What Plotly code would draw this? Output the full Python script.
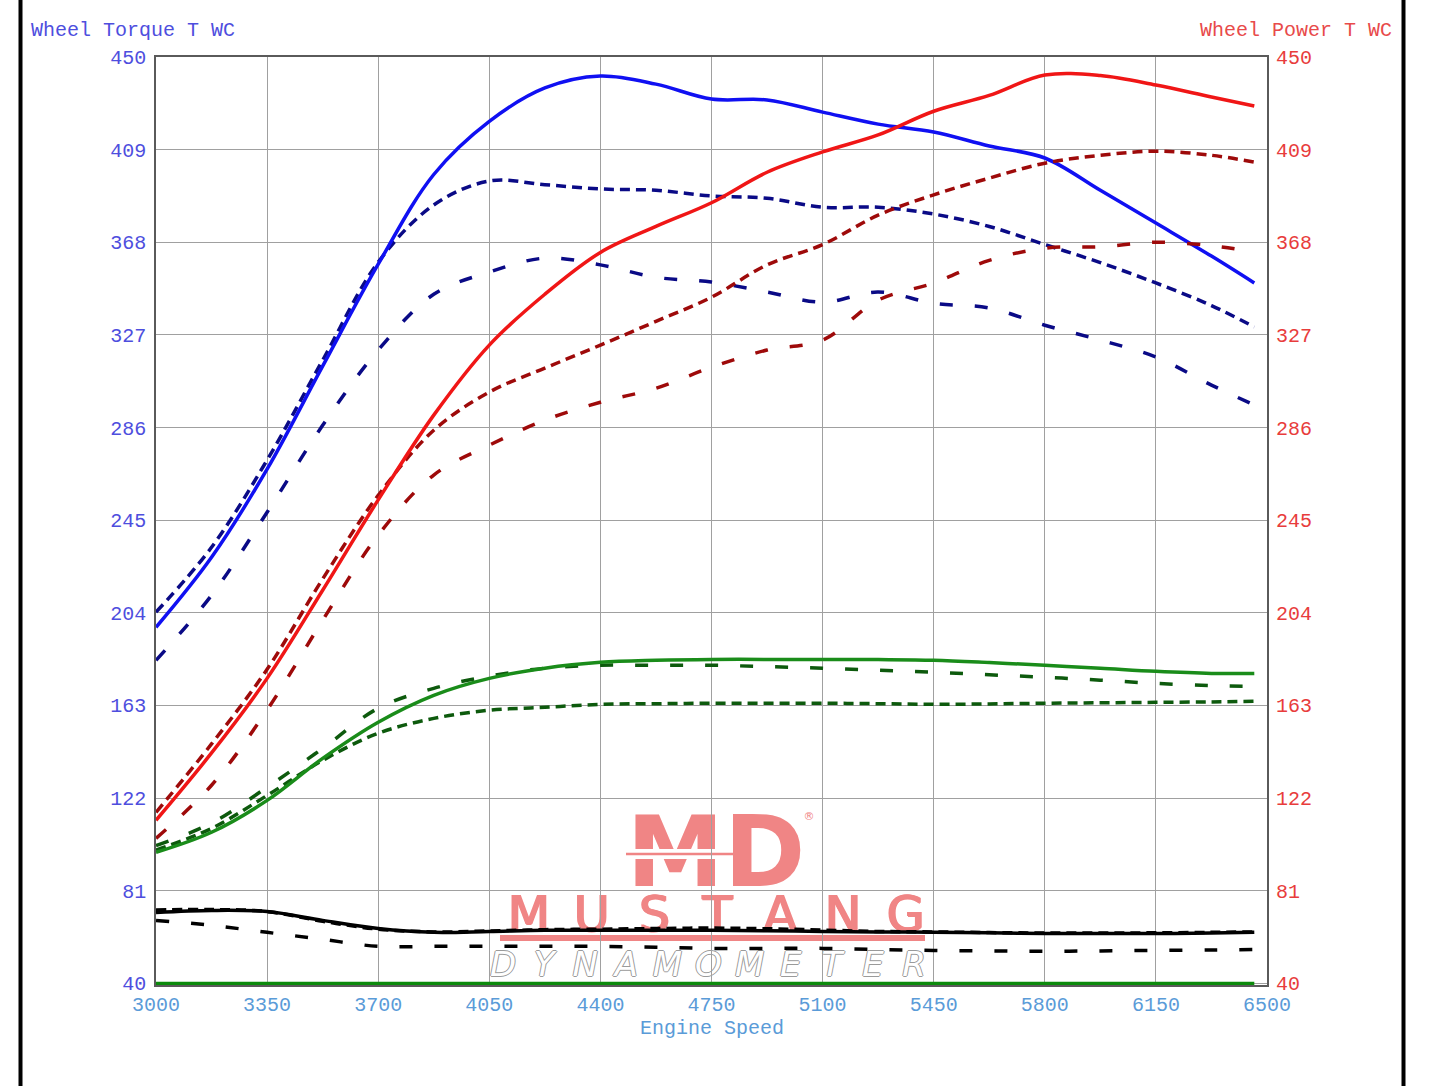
import plotly.graph_objects as go

# ---------------- data ----------------
rpm = [3000, 3175, 3350, 3525, 3700, 3875, 4050, 4225, 4400, 4575, 4750,
       4925, 5100, 5275, 5450, 5625, 5800, 5975, 6150, 6325, 6460]

torque_a = [197.6, 228.6, 267.6, 313.2, 358.3, 398.0, 421.5, 436.3, 441.6, 438.0, 431.4,
            431.0, 425.6, 420.3, 416.8, 410.6, 405.3, 391.0, 376.5, 361.9, 350.0]
torque_b = [204.3, 233.0, 271.6, 315.8, 359.2, 384.5, 395.1, 393.5, 391.6, 391.0, 388.5,
            387.5, 383.5, 383.5, 380.5, 375.0, 367.0, 359.0, 350.0, 340.0, 330.5]
torque_c = [183.0, 211.8, 248.5, 287.0, 320.3, 345.0, 354.8, 361.0, 358.0, 352.5, 350.4,
            346.0, 341.5, 346.0, 341.0, 338.9, 331.3, 324.7, 317.2, 304.8, 296.0]

power_a = [112.2, 142.0, 175.0, 214.0, 254.0, 291.5, 322.5, 345.0, 363.5, 375.0, 385.5,
           399.0, 408.0, 415.5, 426.0, 433.0, 442.0, 441.8, 437.6, 432.3, 428.3]
power_b = [115.7, 146.0, 179.0, 219.0, 256.0, 284.8, 301.7, 312.3, 322.5, 333.0, 343.7,
           358.0, 367.0, 380.0, 389.0, 396.4, 403.0, 406.5, 408.3, 406.5, 403.5]
power_c = [104.2, 127.7, 161.0, 200.7, 238.4, 265.0, 278.2, 289.3, 297.2, 303.4, 312.7,
           320.3, 324.7, 342.4, 350.0, 360.0, 365.4, 366.0, 368.0, 366.5, 363.7]

green_a = [98.0, 106.9, 121.0, 139.6, 155.6, 167.5, 175.0, 179.5, 182.1, 183.0, 183.4,
           183.4, 183.4, 183.3, 183.0, 182.0, 180.8, 179.5, 178.1, 177.2, 177.2]
green_b = [99.0, 108.6, 123.2, 138.7, 150.7, 157.3, 160.9, 162.2, 163.5, 163.8, 164.0,
           164.0, 164.0, 163.8, 163.5, 163.7, 164.0, 164.2, 164.4, 164.6, 164.9]
green_c = [101.0, 111.0, 126.8, 144.0, 161.8, 170.6, 176.0, 179.5, 180.8, 180.8, 180.8,
           180.2, 179.5, 178.6, 177.7, 176.6, 175.5, 174.2, 172.8, 171.8, 171.5]
green_base = [40.0] * 21

black_a = [71.4, 72.3, 71.8, 67.9, 64.3, 62.6, 63.0, 63.5, 63.5, 63.5, 63.5,
           63.3, 63.0, 62.8, 62.6, 62.4, 62.1, 62.1, 62.1, 62.3, 62.6]
black_b = [72.5, 72.7, 71.8, 67.5, 64.0, 62.8, 63.2, 63.8, 64.0, 64.3, 64.5,
           64.2, 63.6, 63.0, 62.8, 62.5, 62.3, 62.3, 62.4, 62.6, 62.8]
black_c = [67.9, 65.7, 62.6, 59.5, 56.4, 56.4, 56.4, 56.4, 56.4, 56.0, 55.5,
           55.5, 55.5, 55.0, 54.6, 54.4, 54.2, 54.4, 54.6, 54.8, 55.0]

x_ticks = [3000, 3350, 3700, 4050, 4400, 4750, 5100, 5450, 5800, 6150, 6500]
y_ticks = [40, 81, 122, 163, 204, 245, 286, 327, 368, 409, 450]

# ---------------- styling ----------------
W, H = 1440, 1086
ML, MR, MT, MB = 156, 173, 57, 101
PW, PH = W - ML - MR, H - MT - MB
FONT = "Liberation Mono"
SHORT = "10px,6px"
LONG = "13px,22px"
LW = 3.5


def px(xp):
    return (xp - ML) / PW


def py(yp):
    return (H - MB - yp) / PH


fig = go.Figure()

series = [
    (black_c, "#000000", LONG, "y"),
    (black_b, "#000000", SHORT, "y"),
    (black_a, "#000000", "solid", "y"),
    (green_base, "#0b8a0b", "solid", "y"),
    (green_b, "#0d5a0d", SHORT, "y"),
    (green_c, "#0d5a0d", LONG, "y"),
    (green_a, "#1a8c1a", "solid", "y"),
    (torque_c, "#0a0a86", LONG, "y"),
    (torque_b, "#0a0a86", SHORT, "y"),
    (torque_a, "#1010f2", "solid", "y"),
    (power_c, "#9e0a0a", LONG, "y2"),
    (power_b, "#9e0a0a", SHORT, "y2"),
    (power_a, "#f01616", "solid", "y2"),
]
for vals, col, dash, ax in series:
    fig.add_trace(go.Scatter(
        x=rpm, y=vals, mode="lines", yaxis=ax, showlegend=False, hoverinfo="skip",
        line=dict(color=col, width=LW, dash=dash, shape="spline", smoothing=1.0)))

grid = "#a0a0a0"
frame = "#5a5a5a"
yr = [39.3, 450]

fig.update_layout(
    width=W, height=H,
    margin=dict(l=ML, r=MR, t=MT, b=MB, pad=0),
    paper_bgcolor="white", plot_bgcolor="white",
    showlegend=False,
    xaxis=dict(range=[3000, 6500], tickvals=x_ticks, ticktext=[str(v) for v in x_ticks],
               tickfont=dict(family=FONT, size=20, color="#5a9bd8"),
               showgrid=True, gridcolor=grid, gridwidth=1, zeroline=False,
               showline=True, linecolor=frame, linewidth=1.5, mirror=True,
               ticks="outside", ticklen=0, tickcolor="rgba(0,0,0,0)"),
    yaxis=dict(range=yr, tickvals=y_ticks, ticktext=[str(v) for v in y_ticks],
               tickfont=dict(family=FONT, size=20, color="#4e4ede"),
               showgrid=True, gridcolor=grid, gridwidth=1, zeroline=False,
               showline=True, linecolor=frame, linewidth=1.5, mirror=True,
               ticks="outside", ticklen=4, tickcolor="rgba(0,0,0,0)"),
    yaxis2=dict(range=yr, tickvals=y_ticks, ticktext=[str(v) for v in y_ticks],
                overlaying="y", side="right",
                tickfont=dict(family=FONT, size=20, color="#e83c3c"),
                showgrid=False, zeroline=False, showline=False,
                ticks="outside", ticklen=4, tickcolor="rgba(0,0,0,0)"),
)

# axis titles
fig.add_annotation(text="Wheel Torque T WC", xref="paper", yref="paper",
                   x=px(29), y=py(30), xanchor="left", yanchor="middle", showarrow=False,
                   font=dict(family=FONT, size=20, color="#4e4ede"))
fig.add_annotation(text="Wheel Power T WC", xref="paper", yref="paper",
                   x=px(1394), y=py(30), xanchor="right", yanchor="middle", showarrow=False,
                   font=dict(family=FONT, size=20, color="#e84a4a"))
fig.add_annotation(text="Engine Speed", xref="paper", yref="paper",
                   x=px(712), y=py(1028), xanchor="center", yanchor="middle", showarrow=False,
                   font=dict(family=FONT, size=20, color="#5a9bd8"))

# outer page frame lines
for xp_ in (20.5, 1403.5):
    fig.add_shape(type="line", xref="paper", yref="paper",
                  x0=px(xp_), x1=px(xp_), y0=py(-5), y1=py(H + 5),
                  line=dict(color="black", width=4))

# ---------------- watermark logo ----------------
PINK = "#f08585"


def label_box(text, cx, cy, w, h, font):
    fig.add_shape(type="rect", xref="paper", yref="paper",
                  x0=px(cx - w / 2), x1=px(cx + w / 2), y0=py(cy + h / 2), y1=py(cy - h / 2),
                  line=dict(width=0), fillcolor="rgba(0,0,0,0)", layer="between",
                  label=dict(text=text, textposition="middle center", font=font, padding=0))


label_box("MD", 716, 845, 200, 90,
          dict(family="DejaVu Sans", size=98, color=PINK, weight="bold"))
# stripe through MD
fig.add_shape(type="rect", xref="paper", yref="paper", x0=px(626), x1=px(733),
              y0=py(859), y1=py(849), line=dict(width=0), fillcolor="white", layer="between")
fig.add_shape(type="line", xref="paper", yref="paper", x0=px(626), x1=px(733),
              y0=py(854), y1=py(854), line=dict(color=PINK, width=2.5), layer="between")
label_box("®", 809, 815, 16, 16, dict(family="DejaVu Sans", size=11, color=PINK))

for i, ch in enumerate("MUSTANG"):
    label_box(ch, 529 + i * 62.8, 910, 60, 40,
              dict(family="DejaVu Sans", size=49, color=PINK,
                   shadow="1px 0 0 %s, -1px 0 0 %s, 0 1px 0 %s" % (PINK, PINK, PINK)))
fig.add_shape(type="rect", xref="paper", yref="paper", x0=px(500), x1=px(925),
              y0=py(941), y1=py(935), line=dict(width=0), fillcolor=PINK, layer="between")
for i, ch in enumerate("DYNAMOMETER"):
    label_box(ch, 503 + i * 41.1, 962, 40, 30,
              dict(family="DejaVu Sans", size=34, color="white", style="italic",
                   shadow="1px 0 0 #9a9a9a, -1px 0 0 #9a9a9a, 0 1px 0 #9a9a9a, 0 -1px 0 #9a9a9a"))

fig.write_html("out.html", config={"displayModeBar": False},
               post_script="document.body.style.margin='0';document.body.style.overflow='hidden';")
